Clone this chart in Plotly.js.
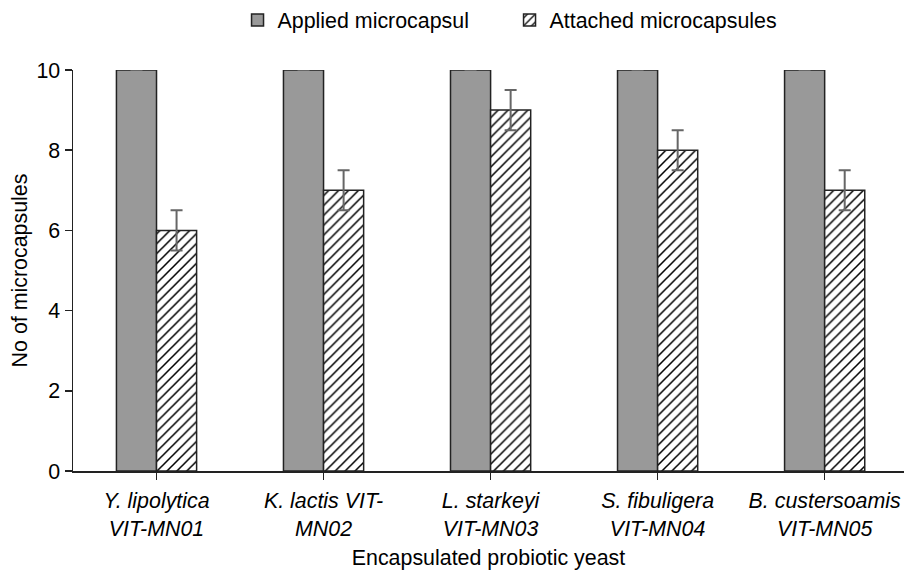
<!DOCTYPE html>
<html>
<head>
<meta charset="utf-8">
<script src="https://cdn.plot.ly/plotly-3.0.1.min.js"></script>
<style>html,body{margin:0;padding:0;background:#fff;}#chart{width:904px;height:570px;}</style>
</head>
<body>
<div id="chart"></div>
<script>
const categories = [
  "<i>Y. lipolytica</i><br><i>VIT-MN01</i>",
  "<i>K. lactis VIT-</i><br><i>MN02</i>",
  "<i>L. starkeyi</i><br><i>VIT-MN03</i>",
  "<i>S. fibuligera</i><br><i>VIT-MN04</i>",
  "<i>B. custersoamis</i><br><i>VIT-MN05</i>"
];
const appliedValues = [10, 10, 10, 10, 10];
const appliedErrors = [0, 0, 0, 0, 0];
const attachedValues = [6, 7, 9, 8, 7];
const attachedErrors = [0.5, 0.5, 0.5, 0.5, 0.5];
const seriesNames = ["Applied microcapsul", "Attached microcapsules"];

const FONT = "Liberation Sans, Arial, sans-serif";
const FS = 21.4;
const errStyle = {type: 'data', visible: true, color: '#666666', thickness: 2, width: 6};

const traces = [
  {
    type: 'bar', name: seriesNames[0], x: categories, y: appliedValues,
    marker: {color: '#999999', line: {color: '#222222', width: 1.5}},
    error_y: Object.assign({array: appliedErrors}, errStyle)
  },
  {
    type: 'bar', name: seriesNames[1], x: categories, y: attachedValues,
    marker: {color: '#ffffff', line: {color: '#222222', width: 1.5},
             pattern: {shape: '/', fgcolor: '#000000', bgcolor: '#ffffff', size: 7, solidity: 0.22}},
    error_y: Object.assign({array: attachedErrors}, errStyle)
  }
];

const layout = {
  width: 904, height: 570,
  margin: {l: 73, r: 0, t: 70, b: 99},
  paper_bgcolor: '#ffffff', plot_bgcolor: '#ffffff',
  font: {family: FONT, size: FS, color: '#000000'},
  barmode: 'group', bargap: 0.52, bargroupgap: 0,
  showlegend: true,
  legend: {orientation: 'h', x: 0.198, xanchor: 'left', xref: 'paper',
           y: 1 - 20/570, yanchor: 'middle', yref: 'container',
           font: {family: FONT, size: FS, color: '#000'}, entrywidth: 227, entrywidthmode: 'pixels',
           traceorder: 'normal'},
  xaxis: {
    type: 'category', range: [-0.5, 4.475],
    showline: true, linecolor: '#222222', linewidth: 1.5,
    ticks: 'outside', ticklen: 7, tickcolor: '#222222', tickwidth: 1.5,
    ticklabelstandoff: 3,
    showgrid: false, zeroline: false,
    tickfont: {family: FONT, size: FS, color: '#000'},
    title: {text: 'Encapsulated probiotic yeast', font: {family: FONT, size: FS, color: '#000'}, standoff: 16}
  },
  yaxis: {
    range: [0, 10], tickvals: [0, 2, 4, 6, 8, 10],
    showline: true, linecolor: '#222222', linewidth: 1.5,
    ticks: 'outside', ticklen: 7, tickcolor: '#222222', tickwidth: 1.5,
    showgrid: false, zeroline: false,
    tickfont: {family: FONT, size: FS, color: '#000'},
    title: {text: 'No of microcapsules', font: {family: FONT, size: FS, color: '#000'}, standoff: 3}
  }
};

Plotly.newPlot('chart', traces, layout, {displayModeBar: false, staticPlot: true});
</script>
</body>
</html>
